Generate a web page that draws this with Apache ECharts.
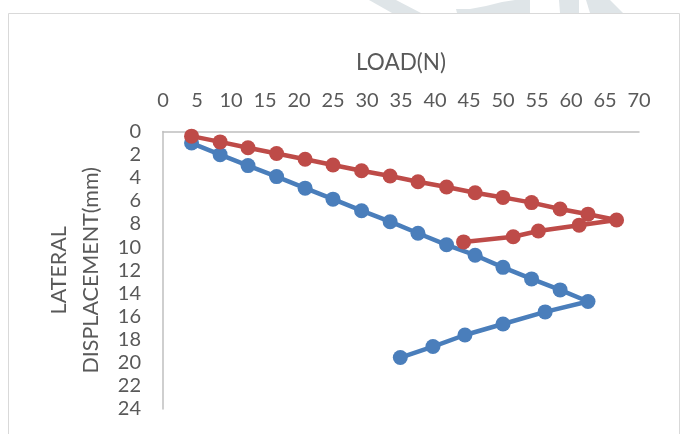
<!DOCTYPE html>
<html>
<head>
<meta charset="utf-8">
<script src="https://cdn.jsdelivr.net/npm/echarts@6/dist/echarts.min.js"></script>
<style>
  html, body { margin: 0; padding: 0; background: #ffffff; }
  #chart { width: 680px; height: 434px; }
</style>
</head>
<body>
<div id="chart"></div>
<script>
// Load (N) against lateral displacement (mm), two loading runs
const loadBlue = [4.2, 8.4, 12.5, 16.7, 20.9, 25.0, 29.2, 33.4, 37.5, 41.7, 45.9, 50.0, 54.2, 58.4, 62.5, 56.2, 50.0, 44.4, 39.7, 34.9];
const dispBlue = [1.0, 2.0, 2.95, 3.9, 4.9, 5.85, 6.85, 7.8, 8.8, 9.8, 10.7, 11.75, 12.75, 13.7, 14.7, 15.6, 16.65, 17.6, 18.6, 19.55];
const loadRed = [4.2, 8.4, 12.5, 16.7, 20.9, 25.0, 29.2, 33.4, 37.5, 41.7, 45.9, 50.0, 54.2, 58.4, 62.5, 66.7, 61.2, 55.2, 51.5, 44.2];
const dispRed = [0.4, 0.9, 1.4, 1.9, 2.4, 2.9, 3.4, 3.85, 4.35, 4.8, 5.3, 5.7, 6.15, 6.7, 7.15, 7.65, 8.1, 8.6, 9.1, 9.55];

const xTitle = 'LOAD(N)';
const yTitle = 'LATERAL\nDISPLACEMENT(mm)';

const pairs = (xs, ys) => xs.map((x, i) => [x, ys[i]]);

const textColor = '#595959';
const axisColor = '#bfbfbf';
const fontFamily = 'Lato, "Open Sans", sans-serif';

const chart = echarts.init(document.getElementById('chart'), null, { renderer: 'canvas' });

chart.setOption({
  backgroundColor: '#ffffff',
  animation: false,
  textStyle: { fontFamily: fontFamily },
  graphic: [
    // faint background artwork above the frame
    { type: 'polygon', silent: true, shape: { points: [[369, 0], [396, 0], [421, 13], [392, 13]] }, style: { fill: '#dfe5e8' } },
    { type: 'polygon', silent: true, shape: { points: [[456, 9], [470, 9], [486, 6], [502, 2], [515, 0], [530, 0], [530, 13], [457, 13]] }, style: { fill: '#dfe5e8' } },
    { type: 'polygon', silent: true, shape: { points: [[559, 0], [579, 0], [579, 13], [560, 13]] }, style: { fill: '#dfe5e8' } },
    { type: 'polygon', silent: true, shape: { points: [[586, 0], [610, 0], [623, 13], [590, 13]] }, style: { fill: '#dfe5e8' } },
    // chart frame
    { type: 'rect', silent: true, shape: { x: 8.5, y: 13.5, width: 671, height: 440 }, style: { fill: 'none', stroke: '#d9d9d9', lineWidth: 1 } }
  ],
  grid: { left: 163, top: 131.5, width: 476, height: 277.5, containLabel: false },
  xAxis: {
    type: 'value',
    position: 'top',
    min: 0, max: 70, interval: 5,
    name: xTitle,
    nameLocation: 'middle',
    nameGap: 57,
    nameTextStyle: { color: textColor, fontSize: 22.5, fontFamily: fontFamily },
    axisLine: { show: true, lineStyle: { color: axisColor, width: 1.5 } },
    axisTick: { show: false },
    splitLine: { show: false },
    axisLabel: { color: textColor, fontSize: 20, margin: 21, fontFamily: fontFamily }
  },
  yAxis: {
    type: 'value',
    inverse: true,
    min: 0, max: 24, interval: 2,
    name: yTitle,
    nameLocation: 'middle',
    nameRotate: 90,
    nameGap: 49,
    nameTextStyle: { color: textColor, fontSize: 21.5, lineHeight: 32, fontFamily: fontFamily },
    axisLine: { show: true, onZero: false, lineStyle: { color: axisColor, width: 1.5 } },
    axisTick: { show: false },
    splitLine: { show: false },
    axisLabel: { color: textColor, fontSize: 20, margin: 22, fontFamily: fontFamily }
  },
  series: [
    {
      type: 'line',
      data: pairs(loadBlue, dispBlue),
      symbol: 'circle',
      symbolSize: 15,
      showSymbol: true,
      lineStyle: { color: '#4a7ebb', width: 4.5 },
      itemStyle: { color: '#4a7ebb' },
      z: 2
    },
    {
      type: 'line',
      data: pairs(loadRed, dispRed),
      symbol: 'circle',
      symbolSize: 15,
      showSymbol: true,
      lineStyle: { color: '#be4b48', width: 4.5 },
      itemStyle: { color: '#be4b48' },
      z: 3
    }
  ]
});
</script>
</body>
</html>
